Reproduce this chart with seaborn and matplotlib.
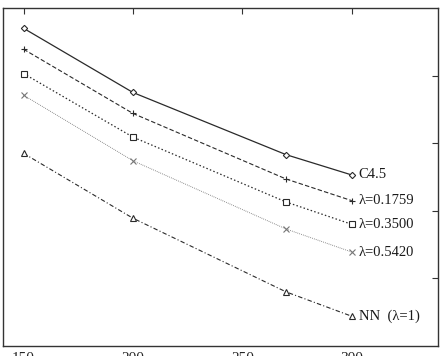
import pandas as pd
import matplotlib
matplotlib.use("Agg")
import matplotlib.pyplot as plt
import seaborn as sns

# values (y in axis units, 0..5)
x_vals = [150, 200, 270, 300]
c45 = [4.70, 3.75, 2.83, 2.53]
lam_01759 = [4.39, 3.44, 2.47, 2.15]
lam_03500 = [4.03, 3.09, 2.13, 1.80]
lam_05420 = [3.71, 2.74, 1.73, 1.39]
nn = [2.85, 1.89, 0.80, 0.44]

labels = ['C4.5', 'λ=0.1759', 'λ=0.3500', 'λ=0.5420', 'NN  (λ=1)']
xticks = [150, 200, 250, 300]
yticks = [1, 2, 3, 4]

series = [c45, lam_01759, lam_03500, lam_05420, nn]
styles = [
    dict(marker='D', ms=3.2, ls='-', color='#2a2a2a', lw=0.9),
    dict(marker='+', ms=4.5, ls=(0, (4, 2)), color='#2a2a2a', lw=0.8),
    dict(marker='s', ms=4.2, ls=(0, (1.2, 1.8)), color='#2a2a2a', lw=0.9),
    dict(marker='x', ms=4.2, ls=(0, (0.8, 1.2)), color='#777777', lw=0.7),
    dict(marker='^', ms=4.0, ls=(0, (4, 2, 1, 2)), color='#2a2a2a', lw=0.8),
]

sns.set_style('white')
plt.rcParams['font.family'] = ['Liberation Serif', 'DejaVu Serif']

fig = plt.figure(figsize=(4.43, 3.56), dpi=100)
ax = fig.add_axes([3 / 443, 10 / 356, 435 / 443, 338 / 356])

for name, vals, st in zip(labels, series, styles):
    df = pd.DataFrame({'x': x_vals, 'y': vals})
    sns.lineplot(data=df, x='x', y='y', ax=ax, color=st['color'],
                 linewidth=st['lw'], linestyle=st['ls'], marker=st['marker'],
                 markersize=st['ms'], markerfacecolor='white',
                 markeredgecolor=st['color'], markeredgewidth=0.8)
    ax.annotate(name, xy=(x_vals[-1], vals[-1]), xytext=(5, 0),
                textcoords='offset points', ha='left', va='center',
                fontsize=10.5, color='#1a1a1a')

ax.set_xlim(140.6, 339.4)
ax.set_ylim(0, 5)
ax.set_xticks(xticks)
ax.set_xticklabels([str(t) for t in xticks])
ax.set_yticks(yticks)
ax.set_yticklabels([])
ax.set_xlabel('')
ax.set_ylabel('')
ax.tick_params(direction='in', length=4, width=0.8, color='#333333',
               top=True, right=True, labelsize=11, pad=4)
for sp in ax.spines.values():
    sp.set_color('#333333')
    sp.set_linewidth(1.0)

fig.savefig('out.png', dpi=100)
